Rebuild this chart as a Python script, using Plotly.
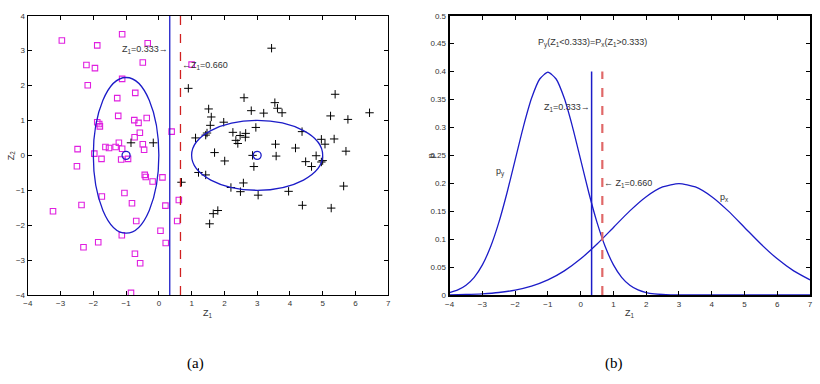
import plotly.graph_objects as go

# ---------------- data ----------------
# class y (magenta squares)
sq_x = [-2.96, -1.88, -1.12, -0.34, -0.49, -2.21, -1.95, -2.17, -1.12, -0.72, -1.27, -1.24,
        -1.88, -1.82, -1.80, -0.75, -0.62, -0.37, -0.58, -0.74, -1.22, -0.49, -0.45, -1.63,
        -1.52, -1.32, -1.12, -2.48, -1.97, -1.75, -1.15, -0.94, 0.39, 1.00, -2.50, -0.43,
        -0.40, -0.19, 0.11, -1.05, -1.74, -2.36, -3.23, -0.82, 0.20, 0.61, 0.56, -0.69,
        0.05, -1.13, -2.30, -1.85, 0.21, -0.73, -0.57, -0.85]
sq_y = [3.29, 3.15, 3.47, 3.21, 2.66, 2.59, 2.50, 2.01, 2.19, 1.79, 1.64, 1.13,
        0.95, 0.90, 0.83, 1.01, 0.93, 1.07, 0.65, 0.52, 0.36, 0.32, 0.16, 0.24,
        0.21, 0.24, 0.19, 0.18, 0.05, -0.10, -0.12, -0.10, 0.68, 2.60, -0.31, -0.56,
        -0.62, -0.75, -0.63, -1.08, -1.18, -1.42, -1.60, -1.37, -1.44, -1.28, -1.88, -1.88,
        -2.16, -2.29, -2.63, -2.49, -2.51, -2.82, -3.09, -3.94]

# class x (black pluses)
pl_x = [-0.85, -0.17, 0.90, 1.12, 3.44, 5.38, 2.60, 3.54, 3.62, 3.76, 3.20, 2.82,
        1.52, 1.60, 6.43, 5.24, 5.77, 1.98, 1.57, 2.96, 4.37, 1.47, 1.43, 2.26,
        2.48, 2.65, 2.64, 2.35, 2.41, 3.56, 4.17, 4.96, 5.07, 5.35, 5.71, 1.70,
        2.86, 3.58, 4.80, 2.01, 2.90, 4.48, 4.66, 4.96, 5.00, 1.21, 1.43, 0.69,
        2.20, 2.58, 2.49, 3.03, 3.96, 5.64, 4.38, 5.26, 1.80, 1.66, 1.55]
pl_y = [0.36, 0.36, 1.92, 0.50, 3.07, 1.75, 1.65, 1.51, 1.35, 1.22, 1.21, 1.28,
        1.33, 1.10, 1.22, 1.13, 1.03, 0.95, 0.86, 0.80, 0.68, 0.64, 0.58, 0.66,
        0.57, 0.63, 0.52, 0.43, 0.34, 0.32, 0.21, 0.46, 0.32, 0.47, 0.12, 0.08,
        0.00, -0.02, -0.01, -0.16, -0.32, -0.18, -0.32, -0.19, -0.15, -0.49, -0.56, -0.77,
        -0.92, -0.79, -1.04, -1.14, -1.03, -0.88, -1.43, -1.51, -1.58, -1.67, -1.96]

centers_x = [-1, 3]
centers_y = [0, 0]

# ellipses (x0, x1, y0, y1)
ell_y = [-2.0, 0.0, -2.23, 2.23]
ell_x = [1.0, 5.0, -1.0, 1.0]

z_opt = 0.333
z_bayes = 0.660

# densities (panel b)
py_z = [-4, -3.75, -3.5, -3.25, -3, -2.75, -2.5, -2.25, -2, -1.75, -1.5, -1.25, -1,
        -0.75, -0.5, -0.25, 0, 0.25, 0.5, 0.75, 1, 1.25, 1.5, 1.75, 2, 2.25, 2.5, 2.75,
        3, 3.5, 4, 5, 6, 7]
py_v = [0.0044, 0.0091, 0.0175, 0.0317, 0.054, 0.0863, 0.1295, 0.1826, 0.242, 0.3011,
        0.3521, 0.3867, 0.3989, 0.3867, 0.3521, 0.3011, 0.242, 0.1826, 0.1295, 0.0863,
        0.054, 0.0317, 0.0175, 0.0091, 0.0044, 0.002, 0.0009, 0.0004, 0.0001, 0.0, 0.0,
        0.0, 0.0, 0.0]
px_z = [-4, -3.5, -3, -2.5, -2, -1.5, -1, -0.5, 0, 0.5, 1, 1.5, 2, 2.5, 3, 3.5, 4,
        4.5, 5, 5.5, 6, 6.5, 7]
px_v = [0.0004, 0.001, 0.0022, 0.0045, 0.0088, 0.0159, 0.027, 0.0432, 0.0648, 0.0913,
        0.121, 0.1506, 0.176, 0.1934, 0.1995, 0.1934, 0.176, 0.1506, 0.121, 0.0913,
        0.0648, 0.0432, 0.027]

BLUE = "#1c1cc8"
FONT = "Liberation Sans"

fig = go.Figure()

# ---- panel (a)
fig.add_trace(go.Scatter(x=sq_x, y=sq_y, mode="markers", xaxis="x", yaxis="y",
                         marker=dict(symbol="square-open", size=5.5, color="#e020e0",
                                     line=dict(width=1.1, color="#e020e0"))))
fig.add_trace(go.Scatter(x=pl_x, y=pl_y, mode="markers", xaxis="x", yaxis="y",
                         marker=dict(symbol="cross-thin-open", size=6, color="black",
                                     line=dict(width=1, color="black"))))
fig.add_trace(go.Scatter(x=centers_x, y=centers_y, mode="markers", xaxis="x", yaxis="y",
                         marker=dict(symbol="circle-open", size=8, color=BLUE,
                                     line=dict(width=1.3, color=BLUE))))
fig.add_trace(go.Scatter(x=[z_opt, z_opt], y=[-4, 4], mode="lines", xaxis="x", yaxis="y",
                         line=dict(color=BLUE, width=1.3)))
fig.add_trace(go.Scatter(x=[z_bayes, z_bayes], y=[-4, 4], mode="lines", xaxis="x", yaxis="y",
                         line=dict(color="#d02020", width=1.3, dash="dash")))

# ---- panel (b)
fig.add_trace(go.Scatter(x=py_z, y=py_v, mode="lines", xaxis="x2", yaxis="y2",
                         line=dict(color=BLUE, width=1.3, shape="spline", smoothing=0.6)))
fig.add_trace(go.Scatter(x=px_z, y=px_v, mode="lines", xaxis="x2", yaxis="y2",
                         line=dict(color=BLUE, width=1.3, shape="spline", smoothing=0.6)))
fig.add_trace(go.Scatter(x=[z_opt, z_opt], y=[0, 0.4], mode="lines", xaxis="x2", yaxis="y2",
                         line=dict(color=BLUE, width=1.5)))
fig.add_trace(go.Scatter(x=[z_bayes, z_bayes], y=[0, 0.4], mode="lines", xaxis="x2", yaxis="y2",
                         line=dict(color="#e06868", width=2.2, dash="dash")))

shapes = [
    dict(type="circle", xref="x", yref="y", x0=ell_y[0], x1=ell_y[1], y0=ell_y[2], y1=ell_y[3],
         line=dict(color=BLUE, width=1.3)),
    dict(type="circle", xref="x", yref="y", x0=ell_x[0], x1=ell_x[1], y0=ell_x[2], y1=ell_x[3],
         line=dict(color=BLUE, width=1.3)),
]

tfont = dict(family=FONT, size=8, color="#333")
afont = dict(family=FONT, size=9, color="#333")

def ax(domain, rng, tickvals, ticktext=None, anchor=None, lw=1.2):
    d = dict(domain=domain, range=rng, tickvals=tickvals, ticks="inside", ticklen=4,
             tickcolor="black", showline=True, linecolor="black", linewidth=lw,
             mirror="ticks", showgrid=False, zeroline=False, tickfont=tfont, anchor=anchor)
    if ticktext is not None:
        d["ticktext"] = ticktext
    return d

xd1 = [23 / 820, 387 / 820]
xd2 = [449 / 820, 813 / 820]
yd = [1 - 298 / 384, 1 - 12 / 384]

yt2 = [0, 0.05, 0.1, 0.15, 0.2, 0.25, 0.3, 0.35, 0.4, 0.45, 0.5]
yt2_txt = ["0", "0.05", "0.1", "0.15", "0.2", "0.25", "0.3", "0.35", "0.4", "0.45", "0.5"]


def note(x, y, text, xref, yref, xanchor="center", font=afont, **kw):
    return dict(x=x, y=y, xref=xref, yref=yref, text=text, showarrow=False,
                xanchor=xanchor, yanchor="middle", font=font, **kw)


cap_font = dict(family="Liberation Serif", size=15, color="black")
annotations = [
    note(z_opt, 3.03, "Z<sub>1</sub>=0.333→", "x", "y", "right"),
    note(z_bayes, 2.58, "←Z<sub>1</sub>=0.660", "x", "y", "left"),
    note(0.35, 0.451, "P<sub>y</sub>(Z<sub>1</sub><0.333)=P<sub>x</sub>(Z<sub>1</sub>>0.333)",
         "x2", "y2"),
    note(z_opt, 0.336, "Z<sub>1</sub>=0.333→", "x2", "y2", "right"),
    note(z_bayes, 0.2, "← Z<sub>1</sub>=0.660", "x2", "y2", "left"),
    note(-2.45, 0.22, "p<sub>y</sub>", "x2", "y2"),
    note(4.4, 0.175, "p<sub>x</sub>", "x2", "y2"),
    # axis labels
    note(205 / 820, 1 - 317 / 384, "Z<sub>1</sub>", "paper", "paper"),
    note(631 / 820, 1 - 317 / 384, "Z<sub>1</sub>", "paper", "paper"),
    note(6 / 820, 1 - 155 / 384, "Z<sub>2</sub>", "paper", "paper", textangle=-90),
    note(431 / 820, 1 - 155 / 384, "p", "paper", "paper", textangle=-90),
    # captions
    note(192 / 820, 1 - 368 / 384, "(a)", "paper", "paper", font=cap_font),
    note(615 / 820, 1 - 368 / 384, "(b)", "paper", "paper", font=cap_font),
]

fig.update_layout(
    width=820, height=384, margin=dict(l=0, r=0, t=0, b=0),
    paper_bgcolor="white", plot_bgcolor="white", showlegend=False,
    xaxis=ax(xd1, [-4, 7], list(range(-4, 8)), anchor="y"),
    yaxis=ax(yd, [-4, 4], list(range(-4, 5)), anchor="x"),
    xaxis2=ax(xd2, [-4, 7], list(range(-4, 8)), anchor="y2", lw=2),
    yaxis2=ax(yd, [0, 0.5], yt2, yt2_txt, anchor="x2", lw=2),
    shapes=shapes, annotations=annotations,
)

fig.write_html("out.html")
